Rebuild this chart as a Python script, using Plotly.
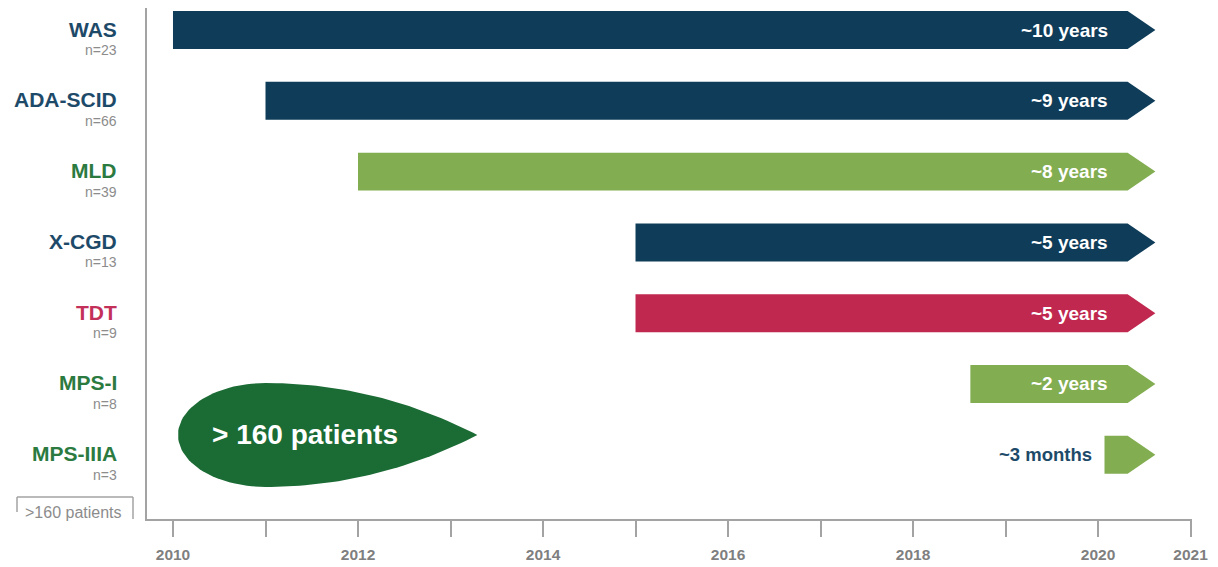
import numpy as np
import plotly.graph_objects as go

# Programme rows, top to bottom
programmes = ["WAS", "ADA-SCID", "MLD", "X-CGD", "TDT", "MPS-I", "MPS-IIIA"]
patients = [23, 66, 39, 13, 9, 8, 3]
start_year = [2010.0, 2011.0, 2012.0, 2015.0, 2015.0, 2018.62, 2020.07]
follow_up = ["~10 years", "~9 years", "~8 years", "~5 years", "~5 years", "~2 years", "~3 months"]
group = ["navy", "navy", "green", "navy", "crimson", "green", "green"]
end_year = 2020.32          # where every arrow body ends
total_label = "> 160 patients"
box_label = ">160 patients"
year_ticks = list(range(2010, 2022))
year_labels = ["2010", "", "2012", "", "2014", "", "2016", "", "2018", "", "2020", "2021"]

BAR_FILL = {"navy": "#0e3c59", "green": "#82ad50", "crimson": "#c0284f"}
TEXT_COL = {"navy": "#1e4a69", "green": "#2b7a40", "crimson": "#c3305a"}
DROP_FILL = "#1b6b35"
GREY = "#a3a3a3"
FONT = "Liberation Sans, Arial, sans-serif"

HALF_H = 0.268      # half bar height in row units
HEAD = 0.30         # arrowhead length in years

fig = go.Figure()

# Arrow-shaped bars (pentagons) drawn in data space
for i, (s, g) in enumerate(zip(start_year, group)):
    xs = [s, end_year, end_year + HEAD, end_year, s, s]
    ys = [i - HALF_H, i - HALF_H, i, i + HALF_H, i + HALF_H, i - HALF_H]
    fig.add_trace(go.Scatter(x=xs, y=ys, mode="lines", fill="toself",
                             fillcolor=BAR_FILL[g], line=dict(width=0),
                             hoverinfo="skip", showlegend=False))

# Teardrop bubble, sitting slightly above the last row
row = len(programmes) - 1
cy = row - 0.28
cx, rx, ry, tip = 2011.0, 0.946, 0.734, 2013.29
th = np.linspace(np.pi / 2, 3 * np.pi / 2, 60)
left_x = cx + rx * np.cos(th)
left_y = cy - ry * np.sin(th)           # top -> left -> bottom
t = np.linspace(0, 1, 40)
ctrl_x = cx + 1.2
bot_x = (1 - t) ** 2 * cx + 2 * (1 - t) * t * ctrl_x + t ** 2 * tip
bot_y = (1 - t) ** 2 * (cy + ry) + 2 * (1 - t) * t * (cy + ry) + t ** 2 * cy
top_x = bot_x[::-1]
top_y = (2 * cy - bot_y)[::-1]
drop_x = np.concatenate([left_x, bot_x, top_x])
drop_y = np.concatenate([left_y, bot_y, top_y])
fig.add_trace(go.Scatter(x=drop_x, y=drop_y, mode="lines", fill="toself",
                         fillcolor=DROP_FILL, line=dict(width=0),
                         hoverinfo="skip", showlegend=False))

annotations = []
label_x = (119 - 147) / 1045
for i, (name, n, g, fu, s) in enumerate(zip(programmes, patients, group, follow_up, start_year)):
    annotations.append(dict(xref="paper", yref="y", x=label_x, y=i, yshift=1,
                            xanchor="right", yanchor="middle", showarrow=False,
                            text=f"<b>{name}</b>",
                            font=dict(family=FONT, size=21, color=TEXT_COL[g])))
    annotations.append(dict(xref="paper", yref="y", x=label_x, y=i, yshift=-20,
                            xanchor="right", yanchor="middle", showarrow=False,
                            text=f"n={n}",
                            font=dict(family=FONT, size=14, color="#8c8c8c")))
    if fu.endswith("months"):
        annotations.append(dict(x=s - 0.11, y=i, xanchor="right", yanchor="middle",
                                showarrow=False, text=f"<b>{fu}</b>",
                                font=dict(family=FONT, size=18.5, color=TEXT_COL["navy"])))
    else:
        annotations.append(dict(x=end_year - 0.19, y=i, xanchor="right", yanchor="middle",
                                showarrow=False, text=f"<b>{fu}</b>",
                                font=dict(family=FONT, size=19, color="white")))

annotations.append(dict(x=2010.4, y=cy, xanchor="left", yanchor="middle", showarrow=False,
                        text=f"<b>{total_label}</b>",
                        font=dict(family=FONT, size=28, color="white")))
annotations.append(dict(xref="paper", yref="paper", x=(73 - 147) / 1045, y=(519 - 512) / 511,
                        xanchor="center", yanchor="middle", showarrow=False,
                        text=box_label, font=dict(family=FONT, size=16, color="#8c8c8c")))

def px_x(p):
    return (p - 147) / 1045

def px_y(p):
    return (519 - p) / 511

shapes = [
    dict(type="line", xref="paper", yref="paper", x0=px_x(17), x1=px_x(133),
         y0=px_y(497), y1=px_y(497), line=dict(color=GREY, width=1.5)),
    dict(type="line", xref="paper", yref="paper", x0=px_x(17), x1=px_x(17),
         y0=px_y(497), y1=px_y(512), line=dict(color=GREY, width=1.5)),
    dict(type="line", xref="paper", yref="paper", x0=px_x(133), x1=px_x(133),
         y0=px_y(497), y1=px_y(519), line=dict(color=GREY, width=1.5)),
]

fig.update_layout(
    width=1218, height=567,
    margin=dict(l=147, r=26, t=8, b=48),
    paper_bgcolor="white", plot_bgcolor="white",
    showlegend=False,
    annotations=annotations,
    shapes=shapes,
    xaxis=dict(range=[2009.719, 2021.016], tickvals=year_ticks,
               ticktext=[f"<b>{t}</b>" if t else "" for t in year_labels],
               ticks="outside", ticklen=16, tickwidth=2, tickcolor=GREY,
               ticklabelstandoff=4, automargin=False,
               showline=True, linecolor=GREY, linewidth=2,
               showgrid=False, zeroline=False,
               tickfont=dict(family=FONT, size=15.5, color="#7f7f7f")),
    yaxis=dict(range=[6.907, -0.311], showticklabels=False, ticks="",
               automargin=False,
               showline=True, linecolor=GREY, linewidth=2,
               showgrid=False, zeroline=False),
)

fig.write_html("out.html")
